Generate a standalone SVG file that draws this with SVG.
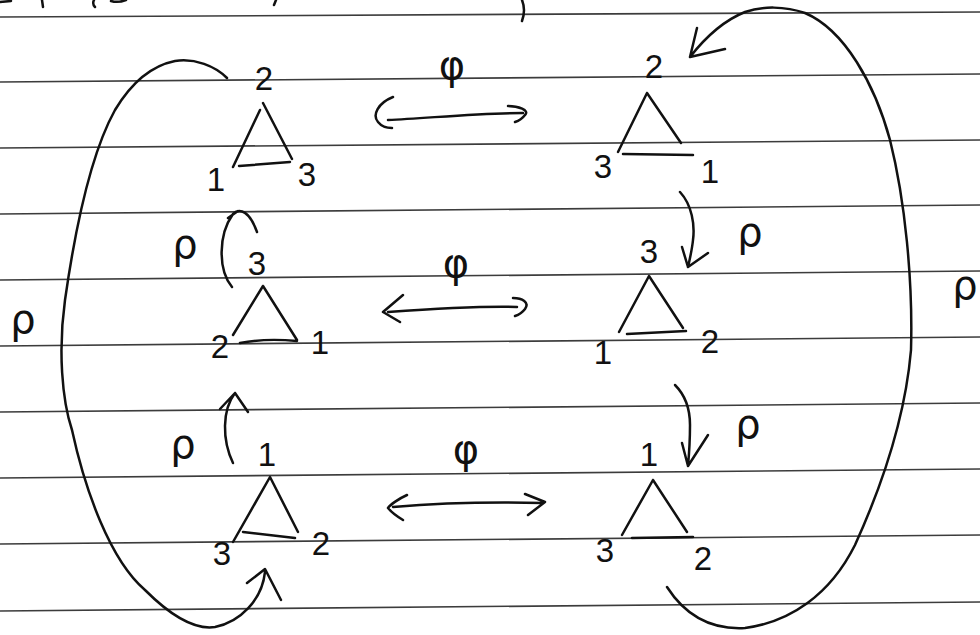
<svg xmlns="http://www.w3.org/2000/svg" width="980" height="635" viewBox="0 0 980 635">
<defs>
<style>
.paper{stroke:#3c3c3c;stroke-width:1.6;fill:none}
.ink{stroke:#111;stroke-width:2.5;fill:none;stroke-linecap:round;stroke-linejoin:round}
.num{font-family:"Liberation Sans","DejaVu Sans",sans-serif;font-size:33px;fill:#111;text-anchor:middle}
.gk{font-family:"DejaVu Sans","Liberation Sans",sans-serif;font-size:40px;fill:#111;text-anchor:middle}
</style>
</defs>
<rect width="980" height="635" fill="#fff"/>
<g id="paper">
<line class="paper" x1="0" y1="17" x2="980" y2="12"/>
<line class="paper" x1="0" y1="82" x2="980" y2="74"/>
<line class="paper" x1="0" y1="148" x2="980" y2="140"/>
<line class="paper" x1="0" y1="214" x2="980" y2="205"/>
<line class="paper" x1="0" y1="280" x2="980" y2="271"/>
<line class="paper" x1="0" y1="346" x2="980" y2="337"/>
<line class="paper" x1="0" y1="412" x2="980" y2="403"/>
<line class="paper" x1="0" y1="478" x2="980" y2="469"/>
<line class="paper" x1="0" y1="544" x2="980" y2="535"/>
<line class="paper" x1="0" y1="611" x2="980" y2="602"/>
<path class="ink" d="M0,2 L11,1 M42,0 L43,7 M94,0 Q92,4 95,7 M111,1 Q118,3 126,0 M276,0 L274,5 M522,0 Q526,10 522,21"/>
</g>
<g id="node-top-left">
<path class="ink" d="M260,110 L233,167 M263,103 L292,159 M239,166 L290,162"/>
<text class="num" x="264" y="90">2</text>
<text class="num" x="216" y="191">1</text>
<text class="num" x="307" y="186">3</text>
</g>
<g id="node-top-right">
<path class="ink" d="M647,93 L618,152 M647,93 L681,143 M623,154 L693,155"/>
<text class="num" x="654" y="78">2</text>
<text class="num" x="603" y="178">3</text>
<text class="num" x="710" y="183">1</text>
</g>
<g id="node-mid-left">
<path class="ink" d="M263,286 L233,335 M263,286 L297,340 M240,343 Q265,338 297,341"/>
<text class="num" x="257" y="275">3</text>
<text class="num" x="220" y="358">2</text>
<text class="num" x="320" y="354">1</text>
</g>
<g id="node-mid-right">
<path class="ink" d="M649,276 L619,332 M649,276 L683,328 M627,334 L686,331"/>
<text class="num" x="649" y="263">3</text>
<text class="num" x="603" y="364">1</text>
<text class="num" x="710" y="353">2</text>
</g>
<g id="node-bottom-left">
<path class="ink" d="M270,477 L233,542 M270,477 L298,532 M243,532 L295,538"/>
<text class="num" x="267" y="466">1</text>
<text class="num" x="222" y="565">3</text>
<text class="num" x="321" y="555">2</text>
</g>
<g id="node-bottom-right">
<path class="ink" d="M653,480 L622,535 M653,480 L687,532 M632,538 L693,537"/>
<text class="num" x="649" y="466">1</text>
<text class="num" x="605" y="562">3</text>
<text class="num" x="703" y="570">2</text>
</g>
<g id="connectors">
<path class="ink" d="M393,97 C378,103 372,115 378,122 C382,127 388,128 392,128 M388,120 C430,118 480,113 523,113 M508,106 C518,106 530,110 525,115 C522,119 518,121 515,122"/>
<path class="ink" d="M403,295 L383,312 L400,322 M388,312 C430,309 480,306 517,307 M513,298 C522,298 530,302 525,309 C522,313 518,315 515,316"/>
<path class="ink" d="M407,495 C398,499 390,505 388,508 C392,513 398,517 403,520 M393,507 C440,503 500,502 543,503 M525,494 L545,502 L528,515"/>
<path class="ink" d="M232,287 C218,270 218,235 233,214 C240,207 250,212 257,232 M228,218 L238,211"/>
<path class="ink" d="M233,463 C222,440 222,410 235,393 M220,409 L235,393 L248,412"/>
<path class="ink" d="M680,192 C692,205 695,225 693,240 C692,250 690,258 688,267 M682,247 L688,267 L708,253"/>
<path class="ink" d="M675,385 C685,395 690,410 690,425 C690,440 689,455 688,466 M682,443 L688,466 L708,435"/>
<path class="ink" d="M227,78 C215,66 195,58 175,61 C150,66 130,85 115,110 C90,155 75,230 65,300 C58,350 62,400 72,430 C85,490 110,560 145,590 C170,615 195,630 215,627 C240,622 262,600 265,572 M247,583 L265,569 L281,600"/>
<path class="ink" d="M667,587 C685,615 710,630 745,628 C790,622 830,595 855,545 C880,490 905,420 911,350 C913,280 905,200 890,140 C875,85 845,30 805,13 C785,6 762,6 745,12 C725,20 708,34 690,57 M697,28 L690,57 L725,49"/>
<text class="gk" x="452" y="79">φ</text>
<text class="gk" x="456" y="277">φ</text>
<text class="gk" x="466" y="463">φ</text>
<text class="gk" x="185" y="258">ρ</text>
<text class="gk" x="183" y="458">ρ</text>
<text class="gk" x="23" y="333">ρ</text>
<text class="gk" x="750" y="246">ρ</text>
<text class="gk" x="748" y="438">ρ</text>
<text class="gk" x="965" y="299">ρ</text>
</g>
</svg>
